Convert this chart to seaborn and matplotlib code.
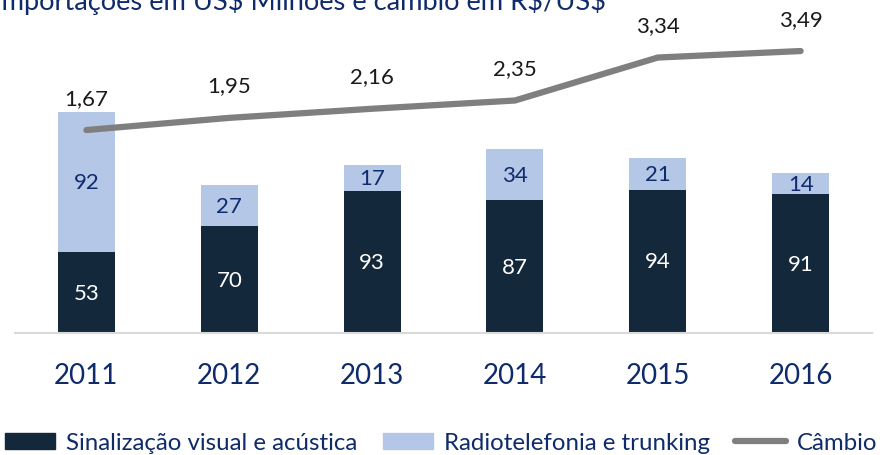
import seaborn as sns
import matplotlib.pyplot as plt
from matplotlib.patches import Patch
from matplotlib.lines import Line2D

# dados
anos = ["2011", "2012", "2013", "2014", "2015", "2016"]
sinalizacao = [53, 70, 93, 87, 94, 91]
radiotelefonia = [92, 27, 17, 34, 21, 14]
cambio = [1.67, 1.95, 2.16, 2.35, 3.34, 3.49]

cor_escura = "#14283C"
cor_clara = "#B4C7E7"
cor_linha = "#7F7F7F"
cor_texto = "#0F2B6B"

sns.set_style("white")
plt.rcParams["font.family"] = ["Lato", "DejaVu Sans"]

fig = plt.figure(figsize=(8.93, 4.56), dpi=100)
ax = fig.add_axes([15 / 893, 122 / 456, 857 / 893, 334 / 456])

# barras empilhadas: total (claro) por trás, sinalização (escuro) na frente
totais = [a + b for a, b in zip(sinalizacao, radiotelefonia)]
sns.barplot(x=anos, y=totais, color=cor_clara, saturation=1, width=0.4, linewidth=0, ax=ax)
sns.barplot(x=anos, y=sinalizacao, color=cor_escura, saturation=1, width=0.4, linewidth=0, ax=ax)

for i, (a, b) in enumerate(zip(sinalizacao, radiotelefonia)):
    ax.text(i, a / 2, str(a), ha="center", va="center", color="white", fontsize=16)
    ax.text(i, a + b / 2, str(b), ha="center", va="center", color=cor_texto, fontsize=16)

ax.set_xlim(-0.5, 5.5)
ax.set_ylim(0, 219.2)
ax.set_yticks([])
ax.set_xlabel("")
ax.set_ylabel("")
for s in ["top", "right", "left"]:
    ax.spines[s].set_visible(False)
ax.spines["bottom"].set_color("#D9D9D9")
ax.spines["bottom"].set_linewidth(1.5)
ax.tick_params(axis="x", length=0, pad=21, labelsize=20, labelcolor=cor_texto)

# câmbio no eixo secundário
ax2 = ax.twinx()
sns.lineplot(x=list(range(len(anos))), y=cambio, color=cor_linha, linewidth=4.5,
             solid_capstyle="round", ax=ax2)
ax2.set_ylim(-3.007, 4.689)
ax2.set_yticks([])
ax2.set_ylabel("")
for s in ax2.spines.values():
    s.set_visible(False)
for i, v in enumerate(cambio):
    ax2.annotate(f"{v:.2f}".replace(".", ","), (i, v), xytext=(0, 19), textcoords="offset points",
                 ha="center", va="baseline", fontsize=16, color="#1A1A1A")

fig.text(-6 / 893, 1 - 10 / 456, "Importações em US$ Milhões e câmbio em R$/US$",
         ha="left", va="baseline", fontsize=19.6, color=cor_texto)

handles = [Patch(color=cor_escura), Patch(color=cor_clara),
           Line2D([0], [0], color=cor_linha, linewidth=4.5, solid_capstyle="round")]
labels = ["Sinalização visual e acústica", "Radiotelefonia e trunking", "Câmbio"]
fig.legend(handles, labels, ncol=3, loc="center left", bbox_to_anchor=(5 / 893, 1 - 444 / 456),
           frameon=False, fontsize=17.3, labelcolor=cor_texto, handlelength=2.1,
           handleheight=0.62, handletextpad=0.45, columnspacing=1.05, borderpad=0, borderaxespad=0)

fig.savefig("out.png", dpi=100)
